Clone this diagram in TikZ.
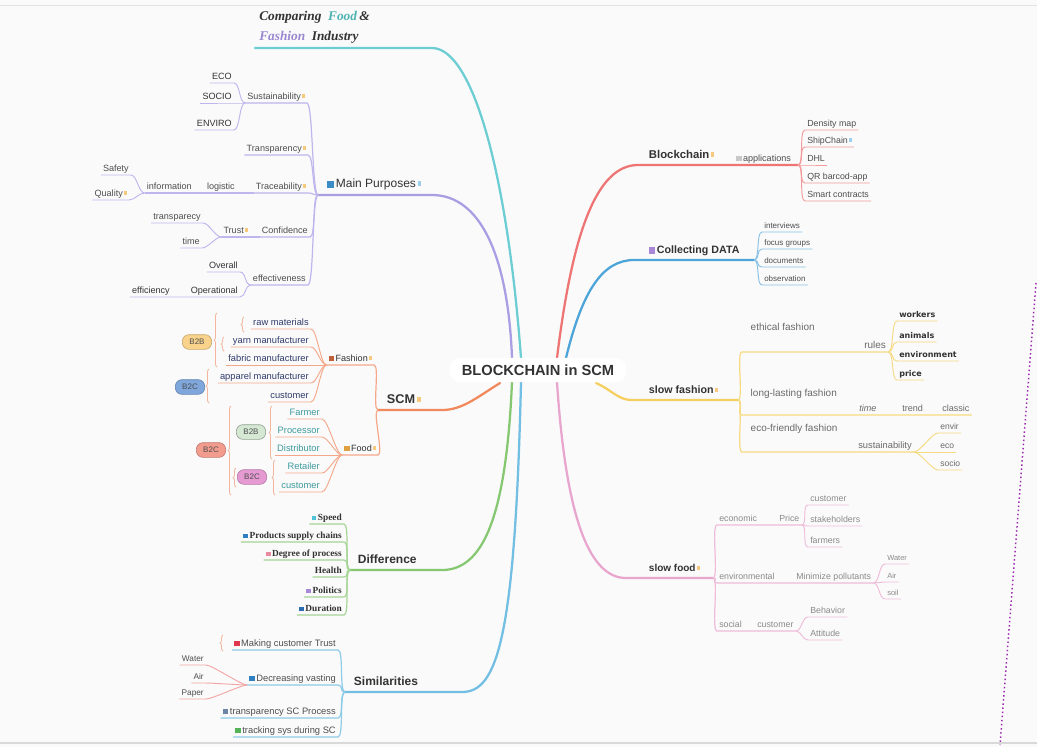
\documentclass[tikz,border=0pt]{standalone}
\usepackage{fontspec}
\setmainfont{Liberation Sans}
\newfontfamily\serifface{Liberation Serif}
\newfontfamily\verdface{DejaVu Sans}
\usetikzlibrary{positioning,decorations.pathreplacing}

% colours
\definecolor{bgc}{HTML}{FAFAFA}
\definecolor{txt}{HTML}{333333}
\definecolor{txtl}{HTML}{4E4E4E}
\definecolor{txtg}{HTML}{6A6A6A}
\definecolor{txtp}{HTML}{8A8A8A}
\definecolor{navy}{HTML}{2F3B6B}
\definecolor{tealt}{HTML}{3D9A9E}
\definecolor{tFood}{HTML}{4FB3B3}
\definecolor{tFash}{HTML}{9A88D0}
\definecolor{cTeal}{HTML}{6CCDD3}
\definecolor{cPurp}{HTML}{A99EE3}
\definecolor{cOrng}{HTML}{F1895C}
\definecolor{cGrn}{HTML}{86C872}
\definecolor{cSky}{HTML}{72BFE3}
\definecolor{cRed}{HTML}{EF7575}
\definecolor{cBlue}{HTML}{4CA4D8}
\definecolor{cYel}{HTML}{F5D060}
\definecolor{cPink}{HTML}{E8A6CE}
\definecolor{lPurp}{HTML}{BEB6EC}
\definecolor{lOrng}{HTML}{F4A889}
\definecolor{lGrn}{HTML}{A6D596}
\definecolor{lSky}{HTML}{8DCBE8}
\definecolor{lRed}{HTML}{F39A9A}
\definecolor{lBlue}{HTML}{86C0E4}
\definecolor{lYel}{HTML}{F6DA82}
\definecolor{lPink}{HTML}{EFBCD9}
\definecolor{lRose}{HTML}{F3A6A6}
\definecolor{cBrc}{HTML}{F3B59D}
\definecolor{mk}{HTML}{F6C97F}
\definecolor{mkB}{HTML}{9ECFEA}
\definecolor{iMP}{HTML}{3C8DC5}
\definecolor{iCy}{HTML}{4FC3D9}
\definecolor{iBl}{HTML}{2F7FC1}
\definecolor{iPk}{HTML}{E88AA0}
\definecolor{iPu}{HTML}{A887D6}
\definecolor{iBl2}{HTML}{2B6CB0}
\definecolor{iRd}{HTML}{E0384F}
\definecolor{iGb}{HTML}{6C86A8}
\definecolor{iGn}{HTML}{56B256}
\definecolor{iFs}{HTML}{C0603A}
\definecolor{iFd}{HTML}{E0A040}
\definecolor{iWh}{HTML}{C8C8C8}
\definecolor{bOrg}{HTML}{F9D38C}
\definecolor{bBlu}{HTML}{7FA7DC}
\definecolor{bSal}{HTML}{F29C8E}
\definecolor{bGrn}{HTML}{D5E8D4}
\definecolor{bPnk}{HTML}{E59BD2}
\definecolor{dotc}{HTML}{9C27B0}

\newcommand\fsz[1]{\fontsize{#1}{#1}\selectfont}
\newcommand\nmk[1][mk]{\,{\color{#1}\rule[0.25ex]{0.5ex}{0.75ex}}}
\newcommand\ico[1]{{\color{#1}\rule[-0.05ex]{1.1ex}{1.1ex}}\,}

\tikzstyle{topic} = [anchor=south west, inner xsep=2pt, inner ysep=3pt, text depth=1.8pt, font=\bfseries\fsz{9}, text=txt]
\tikzstyle{lr} = [anchor=south west, inner xsep=1.5pt, inner ysep=1.3pt, text depth=1.4pt, font=\fsz{6.8}, text=txtl]
\tikzstyle{ll} = [lr, anchor=south east]
\tikzstyle{bub} = [draw, line width=0.5pt, rounded corners=5pt, minimum width=22pt, minimum height=11pt, inner sep=0pt, font=\fsz{6}, text=txtl]
\tikzstyle{brc} = [decorate, decoration={brace, amplitude=2.2pt}, line width=0.6pt, cBrc]
\tikzstyle{main} = [line width=1.7pt, line cap=round]
\tikzstyle{sub} = [line width=0.9pt]
\tikzstyle{leaf} = [line width=0.7pt]
\tikzset{
  fr/.style={to path={.. controls +(6,0) and +(-6,0) .. (\tikztotarget)}},
  fl/.style={to path={.. controls +(-6,0) and +(6,0) .. (\tikztotarget)}}
}

\begin{document}
\begin{tikzpicture}[x=0.75pt, y=-0.75pt]
  \fill[bgc] (0,0) rectangle (1037,747);
  \useasboundingbox (0,0) rectangle (1037,747);
  \draw[gray!22, line width=0.6pt] (0,5) -- (1037,5);
  \draw[gray!30, line width=1pt] (0,743) -- (1037,743);

  % Branch roots round the centre
  \coordinate (ctN1) at (512,358);
  \coordinate (ctN2) at (521,358);
  \coordinate (ctN3) at (557,358);
  \coordinate (ctN4) at (566,358);
  \coordinate (ctS1) at (512,382);
  \coordinate (ctS2) at (521,382);
  \coordinate (ctS3) at (557,382);
  \coordinate (ctW) at (500,383);
  \coordinate (ctE) at (596,383);

  % Title
  \coordinate (ttL) at (255,48);
  \coordinate (ttR) at (432,48);
  \draw[main,cTeal] (ctN2) .. controls (507,170) and (472,48) .. (ttR) -- (ttL);
  \node[anchor=north west, align=left, inner sep=0pt, text=txt,
        font=\serifface\bfseries\itshape\fontsize{10}{15}\selectfont] (ttl) at (259,11)
        {Comparing\ \ \textcolor{tFood}{Food}\,\&\\\textcolor{tFash}{Fashion}\ \ Industry};

  % Main Purposes
  \coordinate (mpR) at (432,195);
  \coordinate (mpF) at (318,195);
  \draw[main,cPurp] (ctN1) .. controls (508,255) and (480,195) .. (mpR) -- (mpF);
  \node[topic, font=\fsz{9}, inner ysep=3.5pt] (mp) at (324,195) {\ico{iMP}Main Purposes\nmk[mkB]};
  \node[ll] (sus) at (307,103) {Sustainability\nmk};
  \node[ll] (trn) at (308,155) {Transparency\nmk};
  \node[ll] (trc) at (308,193) {Traceability\nmk};
  \node[ll] (con) at (310,237) {Confidence};
  \node[ll] (eff) at (308,285) {effectiveness};
  \foreach \nm in {sus,trn,trc,con,eff}
    \draw[sub,lPurp] (mpF) to[fl] (\nm.south east) -- (\nm.south west);

  \foreach \nm/\yy/\txt in {eco/83/ECO, soc/103/SOCIO, env/130/ENVIRO}{
    \node[ll, text=txt] (\nm) at (234,\yy) {\txt};
    \draw[leaf,lPurp] (sus.south west) to[fl] (\nm.south east) -- (\nm.south west);
  }

  \node[ll] (lgs) at (237,193) {logistic};
  \node[ll] (inf) at (194,193) {information};
  \draw[sub,lPurp] (trc.south west) -- (inf.south west);
  \node[ll] (saf) at (131,175) {Safety};
  \node[ll] (qua) at (129,200) {Quality\nmk};
  \foreach \nm in {saf,qua}
    \draw[leaf,lPurp] (inf.south west) to[fl] (\nm.south east) -- (\nm.south west);

  \node[ll] (tru) at (250,237) {Trust\nmk};
  \draw[sub,lPurp] (con.south west) -- (tru.south west);
  \node[ll] (tsp) at (203,223) {transparecy};
  \node[ll] (tim) at (202,248) {time};
  \foreach \nm in {tsp,tim}
    \draw[leaf,lPurp] (tru.south west) to[fl] (\nm.south east) -- (\nm.south west);

  \node[ll, text=txt] (ova) at (240,272) {Overall};
  \node[ll, text=txt] (opr) at (240,297) {Operational};
  \node[ll, text=txt] (efc) at (172,297) {efficiency};
  \draw[leaf,lPurp] (eff.south west) to[fl] (ova.south east) -- (ova.south west);
  \draw[leaf,lPurp] (eff.south west) to[fl] (opr.south east) -- (efc.south west);

  % SCM
  \coordinate (scmR) at (442,410);
  \coordinate (scmF) at (378,410);
  \draw[main,cOrng] (ctW) .. controls (476,398) and (462,410) .. (scmR) -- (scmF);
  \node[topic, font=\bfseries\fsz{9.5}] (scm) at (384,410) {SCM\nmk};

  \node[ll, text=txt] (fsh) at (374,365) {\ico{iFs}Fashion\nmk};
  \draw[sub,lOrng] (scmF) to[fl] (fsh.south east) -- (fsh.south west);
  \foreach \nm/\yy/\txt in {raw/329/raw materials, yrn/347/yarn manufacturer,
      fab/365/fabric manufacturer, apm/383/apparel manufacturer, cu1/402/customer}{
    \node[ll, text=navy, font=\fsz{7}] (\nm) at (311,\yy) {\txt};
    \draw[leaf,lOrng] (fsh.south west) to[fl] (\nm.south east) -- (\nm.south west);
  }

  \node[ll, text=txt] (fod) at (378,455) {\ico{iFd}Food\nmk};
  \draw[sub,lOrng] (scmF) to[fl] (fod.south east) -- (fod.south west);
  \foreach \nm/\yy/\txt in {frm/419/Farmer, prs/437/Processor, dst/455/Distributor,
      rtl/473/Retailer, cu2/492/customer}{
    \node[ll, text=tealt, font=\fsz{7}] (\nm) at (322,\yy) {\txt};
    \draw[leaf,lOrng] (fod.south west) to[fl] (\nm.south east) -- (\nm.south west);
  }

  % B2B / B2C bubbles and braces
  \node[bub, fill=bOrg, draw=bOrg!80!black] (bbF) at (197,342) {B2B};
  \node[bub, fill=bBlu, draw=bBlu!80!black] (bcF1) at (190,387) {B2C};
  \node[bub, fill=bSal, draw=bSal!80!black] (bcD) at (211,450) {B2C};
  \node[bub, fill=bGrn, draw=bGrn!70!black] (bbD) at (251,432) {B2B};
  \node[bub, fill=bPnk, draw=bPnk!80!black] (bcP) at (252,477) {B2C};
  \draw[brc] (244,332) -- (244,317);
  \draw[brc] (224,351) -- (224,337);
  \draw[brc] (217,367) -- (217,313);
  \draw[brc] (209,403) -- (209,369);
  \draw[brc] (272,459) -- (272,406);
  \draw[brc] (231,495) -- (231,406);
  \draw[brc] (236,487) -- (236,468);
  \draw[brc] (275,495) -- (275,460);

  % Difference
  \coordinate (dfR) at (442,570);
  \coordinate (dfF) at (350,570);
  \draw[main,cGrn] (ctS1) .. controls (506,520) and (482,570) .. (dfR) -- (dfF);
  \node[topic] (dif) at (355,570) {Difference};
  \foreach \nm/\yy/\txt in {spd/524/{\ico{iCy}Speed}, psc/542/{\ico{iBl}Products supply chains},
      dgp/560/{\ico{iPk}Degree of process}, hlt/577/Health, pol/597/{\ico{iPu}Politics},
      dur/615/{\ico{iBl2}Duration}}{
    \node[ll, text=txt, font=\serifface\bfseries\fsz{7}] (\nm) at (344,\yy) {\txt};
    \draw[sub,lGrn] (dfF) to[fl] (\nm.south east) -- (\nm.south west);
  }

  % Similarities
  \coordinate (smR) at (462,692);
  \coordinate (smF) at (345,692);
  \draw[main,cSky] (ctS2) .. controls (515,640) and (497,692) .. (smR) -- (smF);
  \node[topic] (sim) at (351,692) {Similarities};
  \foreach \nm/\yy/\txt in {mct/650/{\ico{iRd}Making customer Trust}, dcv/685/{\ico{iBl}Decreasing vasting},
      tsc/718/{\ico{iGb}transparency SC Process}, trk/737/{\ico{iGn}tracking sys during SC}}{
    \node[ll, font=\fsz{7}] (\nm) at (338,\yy) {\txt};
    \draw[sub,lSky] (smF) to[fl] (\nm.south east) -- (\nm.south west);
  }
  \draw[brc] (223,651) -- (223,635);
  \foreach \nm/\yy/\txt in {wat/665/Water, air/683/Air, pap/699/Paper}{
    \node[ll, font=\fsz{6.2}] (\nm) at (206,\yy) {\txt};
    \draw[leaf,lRose] (dcv.south west) to[fl] (\nm.south east) -- (\nm.south west);
  }

  % Blockchain
  \coordinate (bcL) at (638,165);
  \coordinate (bcFk) at (798,165);
  \draw[main,cRed] (ctN3) .. controls (572,235) and (596,165) .. (bcL) -- (bcFk);
  \node[topic, font=\bfseries\fsz{8.5}] (blk) at (646,165) {Blockchain\nmk};
  \node[lr] (apl) at (734,165) {\ico{iWh}applications};
  \foreach \nm/\yy/\txt in {dm/130/Density map, shc/147/{ShipChain\nmk[mkB]}, dhl/165/DHL,
      qr/183/QR barcod-app, smc/201/Smart contracts}{
    \node[lr, font=\fsz{6.6}] (\nm) at (805,\yy) {\txt};
    \draw[leaf,lRed] (bcFk) to[fr] (\nm.south west) -- (\nm.south east);
  }

  % Collecting DATA
  \coordinate (cdL) at (634,260);
  \coordinate (cdF) at (754,260);
  \draw[main,cBlue] (ctN4) .. controls (582,292) and (602,260) .. (cdL) -- (cdF);
  \node[topic, font=\bfseries\fsz{8}] (cdt) at (646,260) {\ico{iPu}Collecting DATA};
  \foreach \nm/\yy/\txt in {itv/232/interviews, fgr/249/focus groups, dcm/267/documents,
      obs/285/observation}{
    \node[lr, font=\fsz{6}] (\nm) at (762,\yy) {\txt};
    \draw[leaf,lBlue] (cdF) to[fr] (\nm.south west) -- (\nm.south east);
  }

  % slow fashion
  \coordinate (sfL) at (632,400);
  \coordinate (sfF) at (738,400);
  \draw[main,cYel] (ctE) .. controls (612,390) and (618,400) .. (sfL) -- (sfF);
  \node[topic, font=\bfseries\fsz{8}] (sfa) at (646,400) {slow fashion\nmk};
  \coordinate (ethL) at (742,352);
  \coordinate (lngL) at (742,415);
  \coordinate (ecoL) at (742,452);
  \node[anchor=base west, font=\fsz{7.5}, text=txtg] (eth) at (746,330) {ethical fashion};
  \node[anchor=base west, font=\fsz{7.5}, text=txtg] (lng) at (746,396) {long-lasting fashion};
  \node[anchor=base west, font=\fsz{7.5}, text=txtg] (efr) at (746,431) {eco-friendly fashion};

  \node[lr, font=\fsz{7.5}, text=txtg] (rul) at (862,352) {rules};
  \draw[sub,lYel] (sfF) to[fr] (ethL) -- (rul.south east);
  \foreach \nm/\yy/\txt in {wrk/321/workers, anm/342/animals, evm/361/environment, prc/380/price}{
    \node[lr, font=\verdface\bfseries\fsz{6}, text=txt] (\nm) at (897,\yy) {\txt};
    \draw[leaf,lYel] (rul.south east) to[fr] (\nm.south west) -- (\nm.south east);
  }

  \node[lr, font=\itshape\fsz{6.8}, text=txtg] (tme) at (857,415) {time};
  \node[lr, text=txtg] (trd) at (900,415) {trend};
  \node[lr, text=txtg] (cls) at (940,415) {classic};
  \draw[sub,lYel] (sfF) to[fr] (lngL) -- (cls.south east);

  \node[lr, font=\fsz{7}, text=txtg] (sty) at (856,452) {sustainability};
  \draw[sub,lYel] (sfF) to[fr] (ecoL) -- (sty.south east);
  \foreach \nm/\yy/\txt in {evr/433/envir, ec2/452/eco, so2/470/socio}{
    \node[lr, font=\fsz{6.4}, text=txtg] (\nm) at (938,\yy) {\txt};
    \draw[leaf,lYel] (sty.south east) to[fr] (\nm.south west) -- (\nm.south east);
  }

  % slow food
  \coordinate (sdL) at (626,578);
  \coordinate (sdF) at (713,578);
  \draw[main,cPink] (ctS3) .. controls (566,520) and (590,578) .. (sdL) -- (sdF);
  \node[topic, font=\bfseries\fsz{7.5}] (sfo) at (646,578) {slow food\nmk};

  \node[lr, font=\fsz{6.6}, text=txtp] (ecn) at (717,525) {economic};
  \node[lr, font=\fsz{6.6}, text=txtp] (pri) at (777,525) {Price};
  \draw[sub,lPink] (sdF) to[fr] (ecn.south west) -- (pri.south east);
  \foreach \nm/\yy/\txt in {cst/505/customer, stk/526/stakeholders, fmr/547/farmers}{
    \node[lr, font=\fsz{6.6}, text=txtp] (\nm) at (808,\yy) {\txt};
    \draw[leaf,lPink] (pri.south east) to[fr] (\nm.south west) -- (\nm.south east);
  }

  \node[lr, font=\fsz{6.6}, text=txtp] (evn) at (717,583) {environmental};
  \node[lr, font=\fsz{6.6}, text=txtp] (mzp) at (794,583) {Minimize pollutants};
  \draw[sub,lPink] (sdF) to[fr] (evn.south west) -- (mzp.south east);
  \foreach \nm/\yy/\txt in {wtr/564/Water, ai2/582/Air, soi/599/soil}{
    \node[lr, font=\fsz{5.6}, text=txtp] (\nm) at (885,\yy) {\txt};
    \draw[leaf,lPink] (mzp.south east) to[fr] (\nm.south west) -- (\nm.south east);
  }

  \node[lr, font=\fsz{6.6}, text=txtp] (scl) at (717,631) {social};
  \node[lr, font=\fsz{6.6}, text=txtp] (cus) at (755,631) {customer};
  \draw[sub,lPink] (sdF) to[fr] (scl.south west) -- (cus.south east);
  \foreach \nm/\yy/\txt in {bhv/617/Behavior, att/640/Attitude}{
    \node[lr, font=\fsz{6.6}, text=txtp] (\nm) at (808,\yy) {\txt};
    \draw[leaf,lPink] (cus.south east) to[fr] (\nm.south west) -- (\nm.south east);
  }

  % Centre
  \node[font=\bfseries\fsz{11}, text=txt, fill=white, rounded corners=8pt,
        inner xsep=9pt, inner ysep=5pt] (ctr) at (538,370) {BLOCKCHAIN in SCM};

  % Dotted margin mark
  \draw[dotc, dotted, line width=1.1pt] (1036,283) -- (1000,745);
\end{tikzpicture}
\end{document}
